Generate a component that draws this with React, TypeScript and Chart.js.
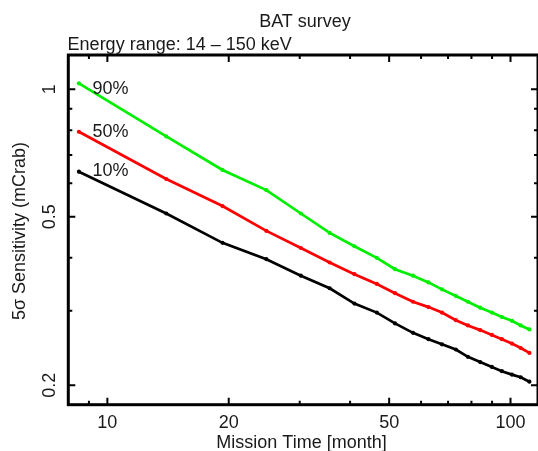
import { useEffect, useRef } from "react";
import { Chart, registerables } from "chart.js";

Chart.register(...registerables);

// Mission time in months (x) and 5-sigma sensitivity in mCrab (y)
const missionMonths = [8.5, 14, 19.3, 24.8, 30.2, 35.6, 41, 46.6, 51.7, 57.3, 62.6, 67.6, 73.2, 78.4, 84.1, 89.9, 95.2, 100.8, 106, 111.4];
const sens90 = [1.033, 0.774, 0.645, 0.578, 0.509, 0.458, 0.426, 0.4, 0.376, 0.363, 0.35, 0.337, 0.325, 0.315, 0.305, 0.297, 0.29, 0.284, 0.277, 0.271];
const sens50 = [0.794, 0.614, 0.53, 0.463, 0.422, 0.39, 0.366, 0.347, 0.33, 0.315, 0.306, 0.297, 0.285, 0.277, 0.27, 0.263, 0.257, 0.251, 0.245, 0.2385];
const sens10 = [0.639, 0.509, 0.434, 0.397, 0.363, 0.339, 0.312, 0.297, 0.28, 0.266, 0.257, 0.25, 0.243, 0.2335, 0.227, 0.221, 0.216, 0.212, 0.209, 0.204];

const seriesLabels = ["90%", "50%", "10%"];
const seriesLabelY = [1.0, 0.794, 0.641];
const seriesLabelX = 9.18;

const xMajorTicks = [10, 20, 50, 100];
const xMinorTicks = [9, 30, 40, 60, 70, 80, 90];
const yMajorTicks = [0.2, 0.5, 1];
const yMinorTicks = [0.3, 0.4, 0.6, 0.7, 0.8, 0.9];
const yTickLabels = ["0.2", "0.5", "1"];
const xTickLabels = ["10", "20", "50", "100"];

const titleText = "BAT survey";
const subtitleText = "Energy range: 14 \u2013 150 keV";
const xTitle = "Mission Time [month]";
const yTitle = "5\u03c3 Sensitivity (mCrab)";

const FONT = '18px "Liberation Sans", Arial, Helvetica, sans-serif';
const TEXT = "#1a1a1a";

const framePlugin = {
  id: "framePlugin",
  afterDraw(chart: any) {
    const { ctx, chartArea: a, scales } = chart;
    const xs = scales.x;
    const ys = scales.y;
    ctx.save();
    // ticks (inward, all four sides)
    ctx.strokeStyle = "#000";
    ctx.lineWidth = 2;
    const xt = (v: number, len: number) => {
      const px = xs.getPixelForValue(v);
      ctx.beginPath();
      ctx.moveTo(px, a.bottom);
      ctx.lineTo(px, a.bottom - len);
      ctx.moveTo(px, a.top);
      ctx.lineTo(px, a.top + len);
      ctx.stroke();
    };
    const yt = (v: number, len: number) => {
      const py = ys.getPixelForValue(v);
      ctx.beginPath();
      ctx.moveTo(a.left, py);
      ctx.lineTo(a.left + len, py);
      ctx.moveTo(a.right, py);
      ctx.lineTo(a.right - len, py);
      ctx.stroke();
    };
    xMajorTicks.forEach((v) => xt(v, 7));
    xMinorTicks.forEach((v) => xt(v, 4));
    yMajorTicks.forEach((v) => yt(v, 7));
    yMinorTicks.forEach((v) => yt(v, 4));
    // frame
    ctx.lineWidth = 3;
    ctx.strokeRect(a.left, a.top, a.right - a.left, a.bottom - a.top);

    ctx.fillStyle = TEXT;
    ctx.font = FONT;
    // x tick labels
    ctx.textAlign = "center";
    ctx.textBaseline = "alphabetic";
    xMajorTicks.forEach((v, i) => {
      ctx.fillText(xTickLabels[i], xs.getPixelForValue(v), a.bottom + 23.5);
    });
    // x title
    ctx.fillText(xTitle, 301.5, a.bottom + 43.5);
    // y tick labels (rotated)
    yMajorTicks.forEach((v, i) => {
      ctx.save();
      ctx.translate(a.left - 13, ys.getPixelForValue(v));
      ctx.rotate(-Math.PI / 2);
      ctx.fillText(yTickLabels[i], 0, 0);
      ctx.restore();
    });
    // y title
    ctx.save();
    ctx.translate(25, 231);
    ctx.rotate(-Math.PI / 2);
    ctx.fillText(yTitle, 0, 0);
    ctx.restore();
    // titles
    ctx.fillText(titleText, 305, 26.5);
    ctx.textAlign = "left";
    ctx.fillText(subtitleText, 67.6, 49.5);
    // series labels
    ctx.textBaseline = "middle";
    seriesLabels.forEach((t, i) => {
      ctx.fillText(t, xs.getPixelForValue(seriesLabelX), ys.getPixelForValue(seriesLabelY[i]));
    });
    ctx.restore();
  },
};

function makeData(ys: number[]) {
  return missionMonths.map((x, i) => ({ x, y: ys[i] }));
}

export default function App() {
  const ref = useRef<HTMLCanvasElement | null>(null);
  useEffect(() => {
    if (!ref.current) return;
    const ds = (label: string, vals: number[], color: string) => ({
      label,
      data: makeData(vals),
      borderColor: color,
      backgroundColor: color,
      borderWidth: 2.7,
      pointRadius: 2.1,
      pointBorderWidth: 0,
      pointBackgroundColor: color,
      tension: 0,
    });
    const chart = new Chart(ref.current, {
      type: "line",
      data: {
        datasets: [
          ds("90%", sens90, "#00ee00"),
          ds("50%", sens50, "#ff0000"),
          ds("10%", sens10, "#000000"),
        ],
      },
      options: {
        responsive: false,
        animation: false,
        events: [],
        layout: { autoPadding: false, padding: { left: 68.3, top: 55, right: 0, bottom: 46.3 } },
        plugins: { legend: { display: false }, tooltip: { enabled: false }, title: { display: false } },
        scales: {
          x: { type: "logarithmic", min: 8, max: 117, display: false },
          y: { type: "logarithmic", min: 0.18, max: 1.205, display: false },
        },
      },
      plugins: [framePlugin],
    });
    return () => chart.destroy();
  }, []);
  return (
    <div style={{ position: "absolute", left: 0, top: 0, width: 538, height: 451, background: "#fff" }}>
      <canvas ref={ref} width={538} height={451} style={{ width: 538, height: 451, display: "block" }} />
    </div>
  );
}
